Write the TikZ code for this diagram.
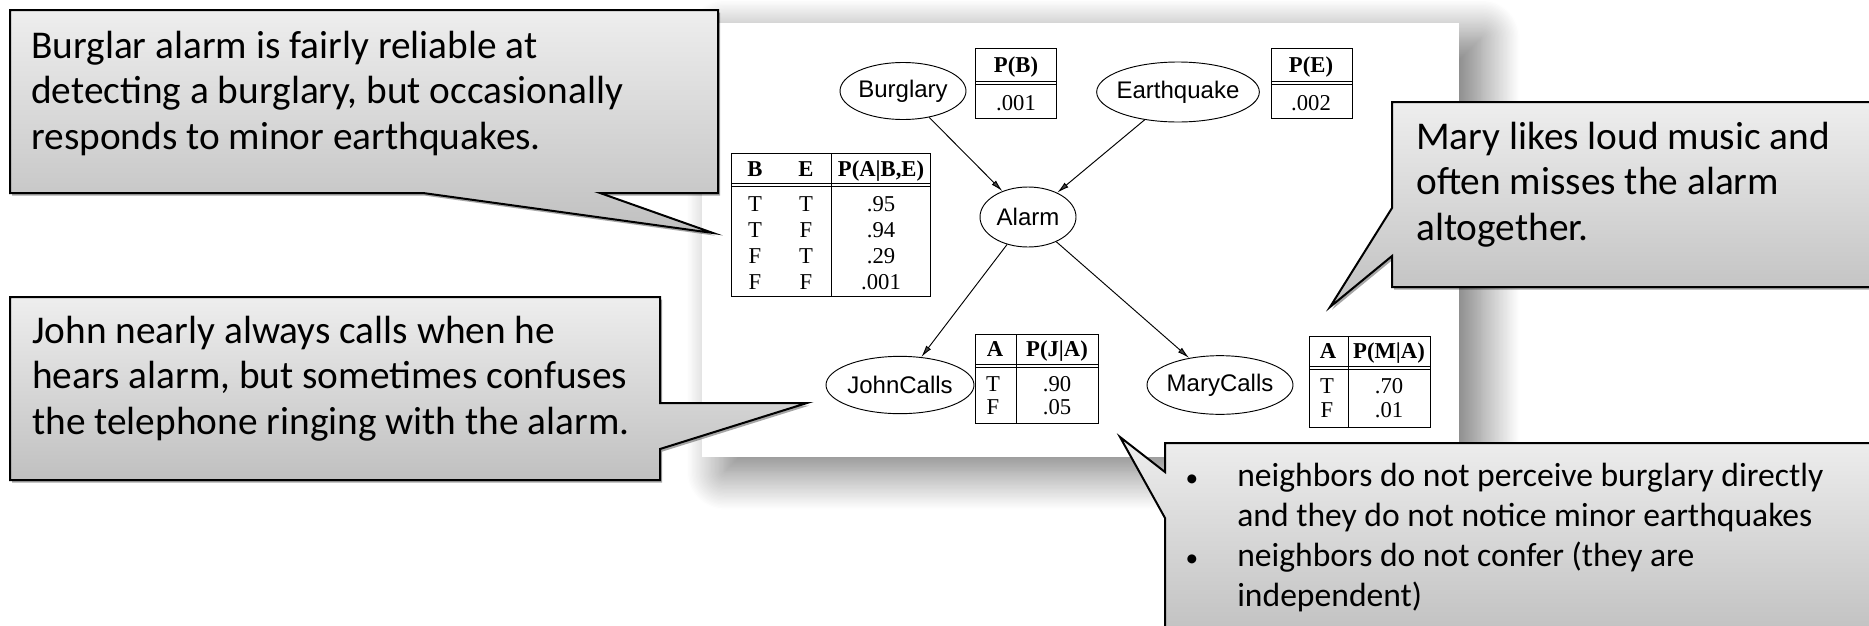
\documentclass[tikz,border=0pt]{standalone}
\usepackage{fontspec}
\setmainfont{Liberation Serif}
\newfontfamily\notefont{Carlito}
\newfontfamily\nodefont{Liberation Sans}
\usetikzlibrary{shapes.geometric,arrows.meta,shadows,shadows.blur}

\definecolor{noteTop}{RGB}{238,238,238}
\definecolor{noteBot}{RGB}{192,192,192}

\tikzset{
  note/.style={draw=black,line width=1.5pt,top color=noteTop,bottom color=noteBot,
    drop shadow={shadow xshift=1.5pt,shadow yshift=-2pt,opacity=0.35,fill=black}},
  notetext/.style={anchor=north west,inner sep=0pt,align=left,
    font=\notefont\fontsize{29.5}{34}\selectfont},
  listtext/.style={notetext,font=\notefont\fontsize{25.2}{30}\selectfont},
  nodelabel/.style={inner sep=0pt,font=\nodefont\fontsize{18}{20}\selectfont},
  bnode/.style={ellipse,draw=black,line width=0.7pt,inner sep=0pt,label={[nodelabel]center:#1}},
  cpt/.style={draw=black,line width=0.7pt},
  cell/.style={anchor=base,inner sep=0pt,font=\fontsize{17}{19}\selectfont},
  hdcell/.style={anchor=base,inner sep=0pt,font=\bfseries\fontsize{17}{19}\selectfont},
  link/.style={line width=0.7pt,-{Latex[length=9pt,width=4.5pt]}}
}
\newcommand{\dotmark}{\makebox[42.75pt][l]{\hspace*{4pt}\fontsize{19}{20}\selectfont•}}

\begin{document}
\begin{tikzpicture}[x=0.75pt,y=0.75pt,yscale=-1,xscale=1]
        \clip (0,0) rectangle (1869,625);

        %Shape: Rectangle (white picture panel)
        \fill [white,blur shadow={shadow xshift=17pt,shadow yshift=-11pt,shadow blur radius=28.5pt,shadow blur steps=30,shadow opacity=55}] (702,23) rectangle (1459,457);

        %Shape: Ellipse
        \node [bnode=Burglary,minimum width=94.5pt,minimum height=42.75pt] (burglary) at (903,91) {};
        %Shape: Ellipse
        \node [bnode=Earthquake,minimum width=122pt,minimum height=45pt] (earthquake) at (1178,92) {};
        %Shape: Ellipse
        \node [bnode=Alarm,minimum width=72pt,minimum height=45pt] (alarm) at (1028,217) {};
        %Shape: Ellipse
        \node [bnode=JohnCalls,minimum width=111pt,minimum height=43pt] (johncalls) at (900,385) {};
        %Shape: Ellipse
        \node [bnode=MaryCalls,minimum width=109.5pt,minimum height=44pt] (marycalls) at (1220,385) {};

        %Straight Lines
        \draw [link] (burglary) -- (alarm);
        \draw [link] (earthquake) -- (alarm);
        \draw [link] (alarm) -- (johncalls);
        \draw [link] (alarm) -- (marycalls);

        %Shape: Table P(B)
        \draw [cpt] (975,48) rectangle (1056,118);
        \draw [cpt] (975,81) -- (1056,81) (975,84) -- (1056,84);
        \node [hdcell] (pb-h) at (1016,72) {P(B)};
        \node [cell] (pb-v) at (1016,110) {.001};

        %Shape: Table P(E)
        \draw [cpt] (1271,48) rectangle (1352,118);
        \draw [cpt] (1271,81) -- (1352,81) (1271,84) -- (1352,84);
        \node [hdcell] (pe-h) at (1311,72) {P(E)};
        \node [cell] (pe-v) at (1311,110) {.002};

        %Shape: Table P(A|B,E)
        \draw [cpt] (731,153) rectangle (930,296);
        \draw [cpt] (731,183) -- (930,183) (731,186) -- (930,186);
        \draw [cpt] (831,153) -- (831,296);
        \node [hdcell] (pa-hb) at (755,176) {B};
        \node [hdcell] (pa-he) at (806,176) {E};
        \node [hdcell] (pa-hp) at (881,176) {P(A|B,E)};
        \node [cell] (pa-b1) at (755,211) {T};
        \node [cell] (pa-e1) at (806,211) {T};
        \node [cell] (pa-p1) at (881,211) {.95};
        \node [cell] (pa-b2) at (755,237) {T};
        \node [cell] (pa-e2) at (806,237) {F};
        \node [cell] (pa-p2) at (881,237) {.94};
        \node [cell] (pa-b3) at (755,263) {F};
        \node [cell] (pa-e3) at (806,263) {T};
        \node [cell] (pa-p3) at (881,263) {.29};
        \node [cell] (pa-b4) at (755,289) {F};
        \node [cell] (pa-e4) at (806,289) {F};
        \node [cell] (pa-p4) at (881,289) {.001};

        %Shape: Table P(J|A)
        \draw [cpt] (975,334) rectangle (1098,423);
        \draw [cpt] (975,364) -- (1098,364) (975,367) -- (1098,367);
        \draw [cpt] (1016,334) -- (1016,423);
        \node [hdcell] (pj-ha) at (995,356) {A};
        \node [hdcell] (pj-hp) at (1057,356) {P(J|A)};
        \node [cell] (pj-a1) at (993,391) {T};
        \node [cell] (pj-p1) at (1057,391) {.90};
        \node [cell] (pj-a2) at (993,414) {F};
        \node [cell] (pj-p2) at (1057,414) {.05};

        %Shape: Table P(M|A)
        \draw [cpt] (1309,336) rectangle (1430,427);
        \draw [cpt] (1309,366) -- (1430,366) (1309,369) -- (1430,369);
        \draw [cpt] (1348,336) -- (1348,427);
        \node [hdcell] (pm-ha) at (1328,358) {A};
        \node [hdcell] (pm-hp) at (1389,358) {P(M|A)};
        \node [cell] (pm-a1) at (1327,393) {T};
        \node [cell] (pm-p1) at (1389,393) {.70};
        \node [cell] (pm-a2) at (1327,417) {F};
        \node [cell] (pm-p2) at (1389,417) {.01};

        %Shape: Callout (burglar)
        \draw [note] (10,10) -- (718,10) -- (718,193) -- (600,193) -- (713,233) -- (423,193) -- (10,193) -- cycle;
        % Text Node
        \node [notetext] (burglarnote) at (31,31) {Burglar alarm is fairly reliable at\\detecting a burglary, but occasionally\\responds to minor earthquakes.};

        %Shape: Callout (john)
        \draw [note] (10,297) -- (660,297) -- (660,403) -- (807,403) -- (660,449) -- (660,480) -- (10,480) -- cycle;
        % Text Node
        \node [notetext] (johnnote) at (32,316) {John nearly always calls when he\\hears alarm, but sometimes confuses\\the telephone ringing with the alarm.};

        %Shape: Callout (mary)
        \draw [note] (1392,102) -- (1885,102) -- (1885,287) -- (1392,287) -- (1392,256) -- (1330,307) -- (1392,208) -- cycle;
        % Text Node
        \node [notetext] (marynote) at (1416,122) {Mary likes loud music and\\often misses the alarm\\altogether.};

        %Shape: Callout (neighbors)
        \draw [note] (1165,443) -- (1885,443) -- (1885,640) -- (1165,640) -- (1165,518) -- (1120,437) -- (1165,472) -- cycle;
        % Text Node
        \node [listtext] (neighbornote) at (1180,463) {\dotmark neighbors do not perceive burglary directly\\
            \hspace*{42.75pt}and they do not notice minor earthquakes\\
            \dotmark neighbors do not confer (they are\\
            \hspace*{42.75pt}independent)};

    \end{tikzpicture}
\end{document}
